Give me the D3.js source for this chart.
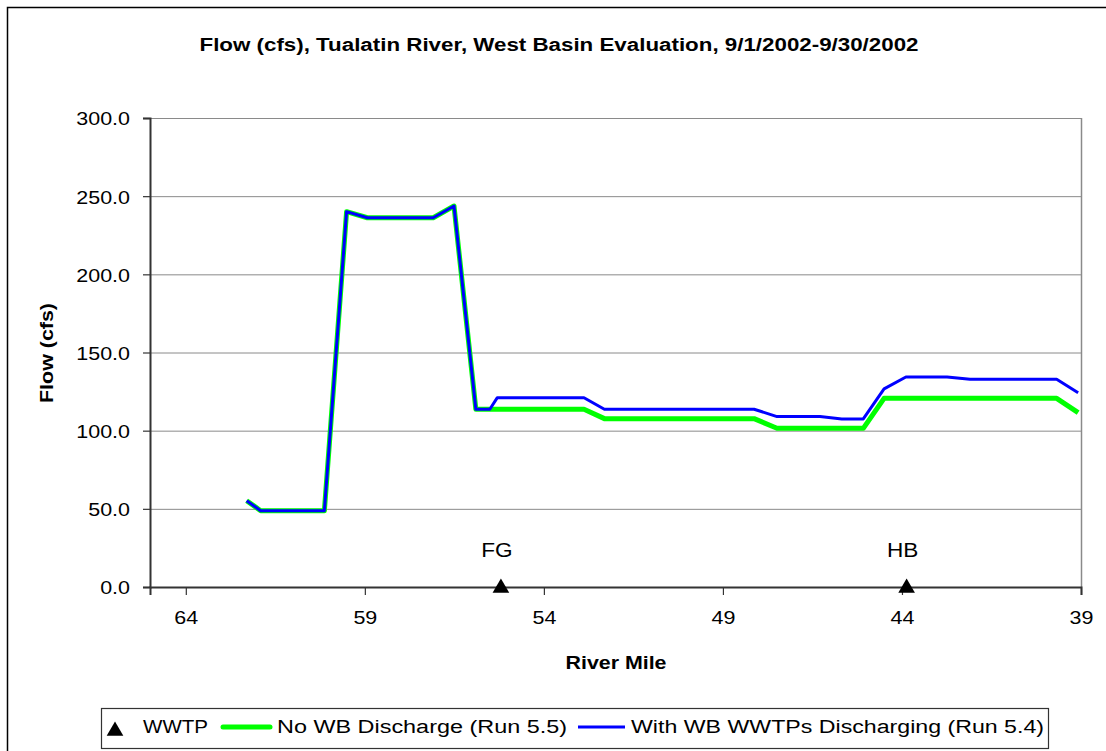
<!DOCTYPE html>
<html><head><meta charset="utf-8">
<script src="https://cdn.jsdelivr.net/npm/d3@7"></script>
<style>
body{margin:0;background:#fff;}
text{font-family:"Liberation Sans",Arial,sans-serif;fill:#000;}
</style></head>
<body>
<svg id="c" width="1106" height="751"></svg>
<script>
// ---- data ----
const riverMiles = [62.30, 61.91, 60.13, 59.51, 58.93, 57.09, 56.51, 55.90, 55.51, 55.30, 52.88, 52.31, 48.13, 47.49, 46.29, 45.68, 45.08, 44.50, 43.89, 42.74, 42.10, 39.68, 39.08];
const noWBDischarge = [55.2, 48.8, 48.8, 240.1, 236.2, 236.2, 243.7, 113.7, 113.7, 113.7, 113.7, 107.7, 107.7, 101.5, 101.5, 101.5, 101.5, 120.7, 120.7, 120.7, 120.7, 120.7, 111.5];
const withWBDischarge = [55.2, 48.8, 48.8, 240.1, 236.2, 236.2, 243.7, 113.7, 113.7, 121.1, 121.1, 113.7, 113.7, 109.0, 109.0, 107.5, 107.5, 126.7, 134.3, 134.3, 132.9, 132.9, 124.3];
const wwtpNames = ["FG", "HB"];
const wwtpMiles = [55.20, 43.87];
const wwtpFlow = [0, 0];
const xTicks = [64, 59, 54, 49, 44, 39];
const yTicks = [0, 50, 100, 150, 200, 250, 300];
const title = "Flow (cfs), Tualatin River, West Basin Evaluation, 9/1/2002-9/30/2002";
const legendLabels = ["WWTP", "No WB Discharge (Run 5.5)", "With WB WWTPs Discharging (Run 5.4)"];

// ---- layout ----
const svg = d3.select("#c");
const L = 150, R = 1081, T = 118, B = 587;
const x = d3.scaleLinear().domain([65, 39]).range([L, R]);
const y = d3.scaleLinear().domain([0, 300]).range([B, T]);
const STRETCH = 1.13;
function stretch(sel, f) {
  sel.each(function () {
    const w = this.getComputedTextLength();
    d3.select(this).attr("textLength", w * (f || STRETCH)).attr("lengthAdjust", "spacingAndGlyphs");
  });
}

// outer chart border (right/bottom fall outside view)
svg.append("rect").attr("x", 7.5).attr("y", 7.5).attr("width", 1200).attr("height", 800)
  .attr("fill", "none").attr("stroke", "#000").attr("stroke-width", 1.5);

// title
svg.append("text").attr("x", 559).attr("y", 51).attr("text-anchor", "middle")
  .attr("font-size", 18).attr("font-weight", "bold")
  .attr("textLength", 719).attr("lengthAdjust", "spacingAndGlyphs").text(title);

// gridlines
svg.append("g").selectAll("line").data(yTicks.filter(d => d > 0)).join("line")
  .attr("x1", L).attr("x2", R).attr("y1", d => y(d) + 0.5).attr("y2", d => y(d) + 0.5)
  .attr("stroke", "#8a8a8a").attr("stroke-width", 1);
// right border of plot
svg.append("line").attr("x1", R + 0.5).attr("x2", R + 0.5).attr("y1", T).attr("y2", B)
  .attr("stroke", "#8a8a8a").attr("stroke-width", 1.5);

// axes
const yAxis = d3.axisLeft(y).tickValues(yTicks).tickSize(7).tickPadding(13).tickFormat(d3.format(".1f"));
const gy = svg.append("g").attr("transform", `translate(${L},0)`).call(yAxis);
gy.select(".domain").attr("stroke", "#333").attr("stroke-width", 2);
gy.selectAll(".tick line").attr("stroke", "#333").attr("stroke-width", 1.2);
gy.selectAll(".tick text").attr("font-size", 19).attr("font-family", "Liberation Sans, Arial, sans-serif").attr("dy", "0.36em").call(stretch);

const xAxis = d3.axisBottom(x).tickValues(xTicks).tickSize(8).tickPadding(16).tickFormat(d3.format("d"));
const gx = svg.append("g").attr("transform", `translate(0,${B})`).call(xAxis);
gx.select(".domain").attr("stroke", "#333").attr("stroke-width", 2);
gx.selectAll(".tick line").attr("stroke", "#333").attr("stroke-width", 1.2);
gx.selectAll(".tick text").attr("font-size", 19).attr("font-family", "Liberation Sans, Arial, sans-serif").call(stretch);

// axis titles
svg.append("text").attr("transform", "translate(53,353) rotate(-90)").attr("text-anchor", "middle")
  .attr("font-size", 19).attr("font-weight", "bold")
  .attr("textLength", 100).attr("lengthAdjust", "spacingAndGlyphs").text("Flow (cfs)");
svg.append("text").attr("x", 616).attr("y", 669).attr("text-anchor", "middle")
  .attr("font-size", 19).attr("font-weight", "bold")
  .attr("textLength", 101).attr("lengthAdjust", "spacingAndGlyphs").text("River Mile");

// lines
const line = d3.line().x((d, i) => x(riverMiles[i])).y(d => y(d));
svg.append("path").datum(noWBDischarge).attr("d", line).attr("fill", "none")
  .attr("stroke", "#00ff00").attr("stroke-width", 5).attr("stroke-linejoin", "round");
svg.append("path").datum(withWBDischarge).attr("d", line).attr("fill", "none")
  .attr("stroke", "#0000ff").attr("stroke-width", 3).attr("stroke-linejoin", "round");

// WWTP markers
const tri = d3.symbol().type(d3.symbolTriangle).size(120);
svg.append("g").selectAll("path").data(wwtpMiles).join("path")
  .attr("d", tri).attr("transform", (d, i) => `translate(${x(d)},${y(wwtpFlow[i]) + 1})`).attr("fill", "#000");
svg.append("g").selectAll("text").data(wwtpNames).join("text")
  .attr("x", (d, i) => x(wwtpMiles[i]) - 4).attr("y", (d, i) => y(wwtpFlow[i]) - 30)
  .attr("text-anchor", "middle").attr("font-size", 20).text(d => d).call(stretch);

// legend
const lg = svg.append("g");
lg.append("rect").attr("x", 101.5).attr("y", 708.5).attr("width", 947).attr("height", 40)
  .attr("fill", "#fff").attr("stroke", "#333").attr("stroke-width", 1.2);
lg.append("path").attr("d", tri).attr("transform", "translate(115,731)").attr("fill", "#000");
lg.append("text").attr("x", 143).attr("y", 733).attr("font-size", 18)
  .attr("textLength", 65).attr("lengthAdjust", "spacingAndGlyphs").text(legendLabels[0]);
lg.append("line").attr("x1", 223).attr("x2", 270).attr("y1", 727).attr("y2", 727)
  .attr("stroke", "#00ff00").attr("stroke-width", 5).attr("stroke-linecap", "round");
lg.append("text").attr("x", 277).attr("y", 733).attr("font-size", 18)
  .attr("textLength", 290).attr("lengthAdjust", "spacingAndGlyphs").text(legendLabels[1]);
lg.append("line").attr("x1", 578).attr("x2", 625).attr("y1", 727).attr("y2", 727)
  .attr("stroke", "#0000ff").attr("stroke-width", 3);
lg.append("text").attr("x", 631).attr("y", 733).attr("font-size", 18)
  .attr("textLength", 413).attr("lengthAdjust", "spacingAndGlyphs").text(legendLabels[2]);
</script>
</body></html>
